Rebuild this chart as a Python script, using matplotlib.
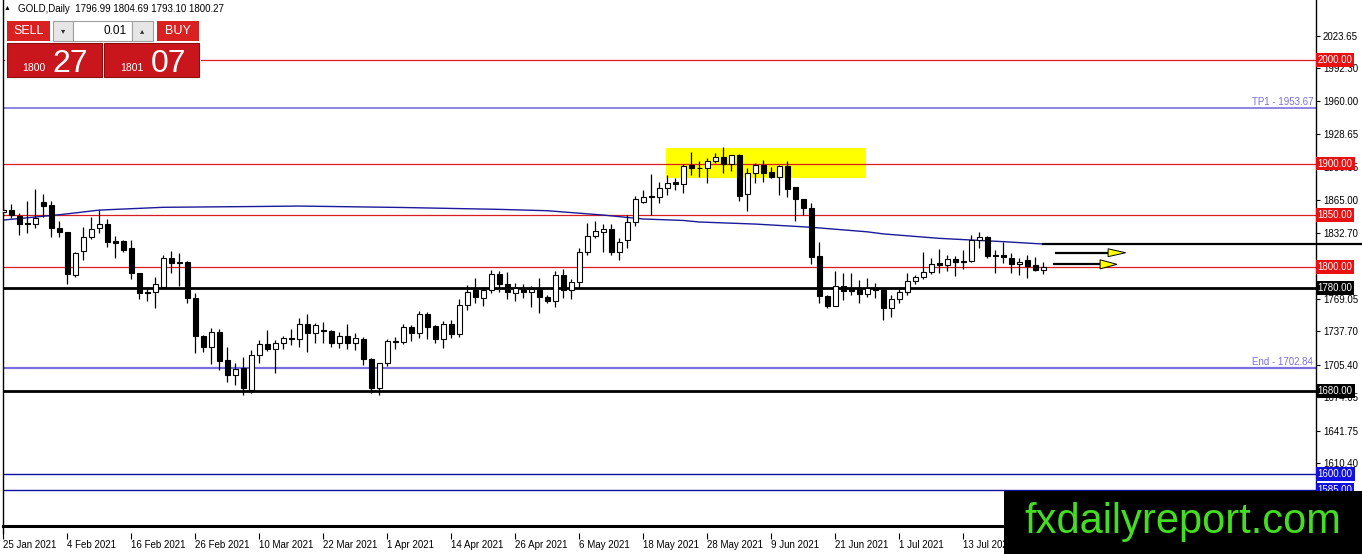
import matplotlib
matplotlib.use("Agg")
import matplotlib.pyplot as plt
import matplotlib.transforms as mtransforms
from matplotlib.patches import Rectangle, Polygon
from matplotlib.lines import Line2D

plt.rcParams['font.family'] = ['Liberation Sans', 'DejaVu Sans']

# daily OHLC (25 Jan 2021 .. 27 Jul 2021)
opens = [1853, 1855, 1849.5, 1842.5, 1842, 1862.5, 1860, 1837.4, 1833.5, 1792.3,
         1815.5, 1829.3, 1837.4, 1842, 1825, 1825, 1818, 1794, 1776, 1775.6,
         1781, 1808.4, 1805, 1805, 1769.7, 1733.6, 1723, 1737.5, 1710, 1696,
         1702, 1681, 1715, 1725.3, 1721, 1726.3, 1731, 1730.4, 1744.9, 1735.9,
         1739, 1738.2, 1726.3, 1733.7, 1726.3, 1730, 1710.8, 1683.4, 1707, 1728,
         1728, 1741.7, 1736.5, 1754.3, 1743, 1730.7, 1745, 1735, 1763.3, 1777.8,
         1770, 1777.8, 1793.2, 1783.6, 1775, 1779.4, 1775.5, 1779, 1770.7, 1767.4,
         1792.3, 1777.8, 1785.8, 1814.2, 1830.3, 1834, 1836.7, 1814.8, 1826, 1843.8,
         1863, 1868, 1868, 1876, 1881.8, 1880, 1899, 1895.4, 1895.4, 1902.7,
         1906, 1899.5, 1908.2, 1870.2, 1890.5, 1898.6, 1891.8, 1887.2, 1897.6, 1877,
         1865.4, 1856.7, 1810.6, 1772.3, 1762.6, 1782, 1779.4, 1778.7, 1774, 1779.4,
         1778, 1760, 1768.8, 1775.5, 1786.5, 1790, 1794.9, 1803.5, 1802, 1807.4,
         1805, 1806, 1826, 1828.7, 1811, 1811.5, 1808.4, 1802.6, 1806.8, 1802,
         1796.99]
highs = [1866, 1861, 1852, 1864, 1875, 1871, 1864, 1844.4, 1834, 1814.8,
         1839, 1848.6, 1855, 1846, 1830, 1826, 1826, 1794.5, 1780.4, 1790.6,
         1811.6, 1815.7, 1813.8, 1806, 1774.6, 1734, 1740.8, 1740, 1723, 1707.5,
         1713.3, 1720, 1729.5, 1739, 1729.5, 1733.3, 1739.8, 1750.4, 1754.6, 1746,
         1747.2, 1739.5, 1737.5, 1745, 1736, 1732, 1712, 1707.6, 1730, 1732,
         1745, 1744, 1757.5, 1756.5, 1744, 1748.2, 1748.8, 1768.8, 1782.6, 1789,
         1780.4, 1797, 1796, 1795.5, 1784.2, 1784, 1781.6, 1789, 1773, 1796.4,
         1797.8, 1788, 1818, 1842.8, 1844.7, 1841.2, 1841.5, 1827.7, 1850.2, 1868.6,
         1874.4, 1889.6, 1882.4, 1889, 1885.7, 1899.2, 1911.4, 1902.7, 1905, 1909.9,
         1916.2, 1908.5, 1909.2, 1895.4, 1900.2, 1903.4, 1897, 1898.6, 1902.7, 1877.5,
         1866, 1862, 1824.5, 1772.5, 1796, 1794, 1794, 1787.4, 1789, 1785,
         1778.5, 1773, 1781, 1793.9, 1792.3, 1814.8, 1808.4, 1817, 1811.6, 1811,
         1816.4, 1831, 1833.5, 1830, 1816.4, 1824.5, 1813.2, 1809, 1811.6, 1810,
         1804.69]
lows = [1849, 1847, 1831, 1832.6, 1838, 1848.6, 1829, 1829.3, 1784, 1790.6,
        1806.8, 1827, 1833, 1819.6, 1809, 1814.8, 1788, 1768.8, 1767.4, 1760,
        1781, 1794.5, 1781.6, 1765, 1716.6, 1718, 1706, 1700.5, 1689, 1686,
        1676.3, 1678, 1707, 1719, 1698, 1720.5, 1724.6, 1723, 1718, 1727,
        1727, 1723, 1722, 1720.8, 1719.8, 1705.3, 1678, 1676.3, 1704.3, 1720.8,
        1725.7, 1728.8, 1731.7, 1730, 1726.3, 1722, 1731, 1732.7, 1758.5, 1765.5,
        1762.3, 1775, 1776, 1768.8, 1767, 1769.8, 1761.7, 1755.3, 1765, 1761.7,
        1770, 1768.8, 1781, 1811.6, 1828.3, 1814.8, 1811.6, 1806.8, 1818.6, 1839.6,
        1861.5, 1850.2, 1862, 1869.6, 1874.4, 1871.8, 1889, 1887.2, 1881.5, 1900.8,
        1891, 1893, 1863.8, 1854.4, 1880.9, 1882.4, 1886.3, 1869.6, 1868, 1844.4,
        1850.2, 1802.6, 1765.5, 1760, 1762, 1768, 1773, 1765, 1771.3, 1770,
        1749, 1752, 1765, 1773, 1783.3, 1788, 1793, 1794, 1796, 1791.3,
        1797.8, 1805, 1818.6, 1808.4, 1794, 1804, 1794, 1792.3, 1789, 1796,
        1793.10]
closes = [1855, 1850, 1842, 1842, 1847.6, 1859, 1837.4, 1833.5, 1793, 1813.2,
          1829.3, 1836.7, 1842, 1824.5, 1823.6, 1816.4, 1794, 1775.2, 1775, 1783.3,
          1808.4, 1804, 1804, 1769.7, 1733.6, 1723, 1737.5, 1709, 1696, 1701.7,
          1682.8, 1715, 1725.3, 1721, 1726.3, 1731, 1730.4, 1744.9, 1735.9, 1744,
          1738.2, 1726.3, 1733.7, 1726.3, 1731, 1710.8, 1683.4, 1707, 1728.8, 1728.8,
          1741.7, 1736.5, 1754.3, 1742.3, 1730.7, 1745, 1735, 1763.3, 1775.5, 1770.7,
          1777.8, 1793.2, 1783.6, 1775.5, 1779.4, 1775.5, 1779, 1770.7, 1767.4, 1792.3,
          1777.8, 1785.8, 1814.2, 1830.3, 1835, 1836.7, 1814.8, 1824.5, 1843.8, 1865.4,
          1868, 1868.5, 1876, 1881.5, 1880, 1897.9, 1895.4, 1895.8, 1902.7, 1906,
          1899.5, 1908.2, 1868.9, 1890.5, 1898.6, 1891, 1887.2, 1897.6, 1875.4, 1865.4,
          1856.7, 1810, 1772.3, 1762.6, 1782, 1777.1, 1777, 1774, 1779.4, 1778,
          1760, 1768.8, 1775.5, 1786.5, 1790, 1794.9, 1802.6, 1802, 1807.4, 1805,
          1806, 1826, 1828.7, 1811, 1811.5, 1809.4, 1802.6, 1805, 1801, 1797,
          1800.27]

# moving average (sampled along the curve)
ma_idx = [0, 7, 12, 20, 32, 37, 50, 62, 68, 75, 80, 85, 87, 94, 101, 108, 110, 117, 125, 130]
ma_val = [1845.4, 1850.5, 1855, 1857.7, 1858.5, 1858.9, 1857.5, 1855.7, 1854.4, 1850.2,
          1846.4, 1845, 1843.5, 1841.5, 1838.4, 1834, 1832, 1827.7, 1824.5, 1822.2]

date_idx = [0, 8, 16, 24, 32, 40, 48, 56, 64, 72, 80, 88, 96, 104, 112, 120]
date_labels = ['25 Jan 2021', '4 Feb 2021', '16 Feb 2021', '26 Feb 2021', '10 Mar 2021',
               '22 Mar 2021', '1 Apr 2021', '14 Apr 2021', '26 Apr 2021', '6 May 2021',
               '18 May 2021', '28 May 2021', '9 Jun 2021', '21 Jun 2021', '1 Jul 2021',
               '13 Jul 2021']

# 1801.35 sits fully under the 1800.00 marker in the original, so it is left out
price_ticks = [2023.65, 1992.30, 1960.00, 1928.65, 1896.35, 1865.00, 1832.70,
               1769.05, 1737.70, 1705.40, 1674.05, 1641.75, 1610.40]

red_levels = [2000, 1900, 1850, 1800]
black_levels = [1780, 1680]
blue_levels = [1600, 1585]
tp1_level = 1953.67
end_level = 1702.84
ma_ray_level = 1822.2

zone_x = [82.9, 107.9]
zone_y = [1886, 1915]

arrow_prices = [1813.8, 1802.6]
arrow_start = [131.6, 131.4]
arrow_head = [138.1, 137.1]
arrow_tip = [140.3, 139.2]

W, H = 1362, 554
def fx(px):
    return px / W
def fy(py):
    return 1 - py / H

fig = plt.figure(figsize=(W / 100, H / 100), dpi=100)
fig.patch.set_facecolor('white')
ax = fig.add_axes([fx(2.7), fy(533), fx(1316) - fx(2.7), fy(0) - fy(533)])
ax.set_facecolor('white')

ax.set_ylim(1543.0, 2058.0)
ax.set_xlim(-0.075, 164.09)
blend = mtransforms.blended_transform_factory(ax.transAxes, ax.transData)

# zone
ax.add_patch(Rectangle((zone_x[0], zone_y[0]), zone_x[1] - zone_x[0], zone_y[1] - zone_y[0],
                       facecolor='#ffff00', edgecolor='none', zorder=0.5))

# levels
for lv in red_levels:
    ax.axhline(lv, color='#d81e1e', lw=0.9, zorder=1)
for lv in black_levels:
    ax.axhline(lv, color='black', lw=2.0, zorder=1)
for lv in blue_levels:
    ax.axhline(lv, color='#1010a0', lw=1.0, zorder=1)
ax.axhline(tp1_level, color='#7b6fe0', lw=1.2, zorder=1)
ax.axhline(end_level, color='#7b6fe0', lw=1.6, zorder=1)
ax.text(0.998, tp1_level + 1.0, 'TP1 - 1953.67', transform=blend,
        ha='right', va='bottom', fontsize=7, color='#7b6fe0')
ax.text(0.998, end_level + 1.0, 'End - 1702.84', transform=blend,
        ha='right', va='bottom', fontsize=7, color='#7b6fe0')

# moving average and its ray
ax.plot(ma_idx, ma_val, color='#1a1a9a', lw=1.0, zorder=2)
ax.plot([ma_idx[-1], 169.8], [ma_ray_level, ma_ray_level], color='black', lw=1.6, zorder=2, clip_on=False)

# candles
xs = list(range(len(opens)))
ax.vlines(xs, lows, highs, color='black', lw=0.9, zorder=3)
for x, o, c in zip(xs, opens, closes):
    lo = min(o, c)
    h = max(abs(c - o), 0.4)
    fc = 'white' if c >= o else 'black'
    ax.add_patch(Rectangle((x - 0.28, lo), 0.56, h, facecolor=fc, edgecolor='black', lw=0.8, zorder=4))

# arrows
for p, s, hd, tp in zip(arrow_prices, arrow_start, arrow_head, arrow_tip):
    ax.plot([s, hd], [p, p], color='black', lw=1.6, zorder=4)
    hh = 3.8 if p > 1810 else 4.4
    ax.add_patch(Polygon([[hd, p - hh], [hd, p + hh], [tp, p]], closed=True,
                         facecolor='#ffff00', edgecolor='black', lw=0.7, zorder=5))

# axes chrome
for s in ['top', 'bottom']:
    ax.spines[s].set_visible(False)
ax.spines['left'].set_linewidth(1.0)
ax.spines['right'].set_linewidth(1.0)
ax.yaxis.tick_right()
ax.set_yticks(price_ticks)
ax.set_yticklabels(['%.2f' % v for v in price_ticks])
ax.tick_params(axis='y', direction='out', length=3, width=0.8, labelsize=7, pad=2)
ax.set_xticks(date_idx)
ax.set_xticklabels(date_labels, ha='left')
ax.tick_params(axis='x', direction='out', length=4, width=0.8, labelsize=7, pad=1)

fig.add_artist(Line2D([fx(2.7), fx(1316)], [fy(526), fy(526)], color='black', lw=2.2))

# price labels on axis
for levels, col in [(red_levels, '#e81010'), (black_levels, 'black'), (blue_levels, '#1010e0')]:
    for lv in levels:
        ax.text(1.0012, lv, '%.2f' % lv, transform=blend, ha='left', va='center', fontsize=7, color='white',
                bbox=dict(boxstyle='square,pad=0.2', fc=col, ec='none'), zorder=6, clip_on=False)

# header
fig.text(fx(4), fy(9), '\u25b2', fontsize=5, va='center', ha='left')
fig.text(fx(18), fy(9), 'GOLD,Daily  1796.99 1804.69 1793.10 1800.27', fontsize=7, va='center', ha='left')

# one-click trading panel
def box(x0, y0, x1, y1, fc, ec='none', lw=0.8):
    fig.add_artist(Rectangle((fx(x0), fy(y1)), fx(x1) - fx(x0), fy(y0) - fy(y1),
                             facecolor=fc, edgecolor=ec, lw=lw, transform=fig.transFigure, zorder=10))

box(5, 19, 201, 78, 'white')
box(7, 21, 50, 41, '#d92121')
box(53, 21, 73, 41, '#e6e6e6', '#a0a0a0')
box(73, 21, 132, 41, 'white', '#a0a0a0')
box(132, 21, 153, 41, '#e6e6e6', '#a0a0a0')
box(157, 21, 199, 41, '#d92121')
box(7, 43, 102, 77, '#c8161c', '#8e0e0e')
box(104, 43, 199, 77, '#c8161c', '#8e0e0e')
fig.text(fx(28.5), fy(31), 'SELL', fontsize=9, color='white', ha='center', va='center', zorder=11)
fig.text(fx(178), fy(31), 'BUY', fontsize=9, color='white', ha='center', va='center', zorder=11)
fig.text(fx(63), fy(31), '\u25be', fontsize=6, color='#333333', ha='center', va='center', zorder=11,
         family=['DejaVu Sans'])
fig.text(fx(142.5), fy(31), '\u25b4', fontsize=6, color='#333333', ha='center', va='center', zorder=11,
         family=['DejaVu Sans'])
fig.text(fx(127), fy(31), '0.01', fontsize=8.5, color='black', ha='right', va='center', zorder=11)
fig.text(fx(22), fy(71), '1800', fontsize=7.5, color='white', ha='left', va='baseline', zorder=11)
fig.text(fx(52), fy(72), '27', fontsize=23, color='white', ha='left', va='baseline', zorder=11)
fig.text(fx(120), fy(71), '1801', fontsize=7.5, color='white', ha='left', va='baseline', zorder=11)
fig.text(fx(151), fy(72), '07', fontsize=23, color='white', ha='left', va='baseline', zorder=11)

# watermark
fig.add_artist(Rectangle((fx(1004), 0), fx(1362) - fx(1004), fy(490.7), facecolor='black',
                         edgecolor='none', transform=fig.transFigure, zorder=12))
fig.text(fx(1182.5), fy(522), 'fxdailyreport.com', fontsize=30, color='#44dd22',
         ha='center', va='center', zorder=13)

fig.savefig('out.png', dpi=100)
